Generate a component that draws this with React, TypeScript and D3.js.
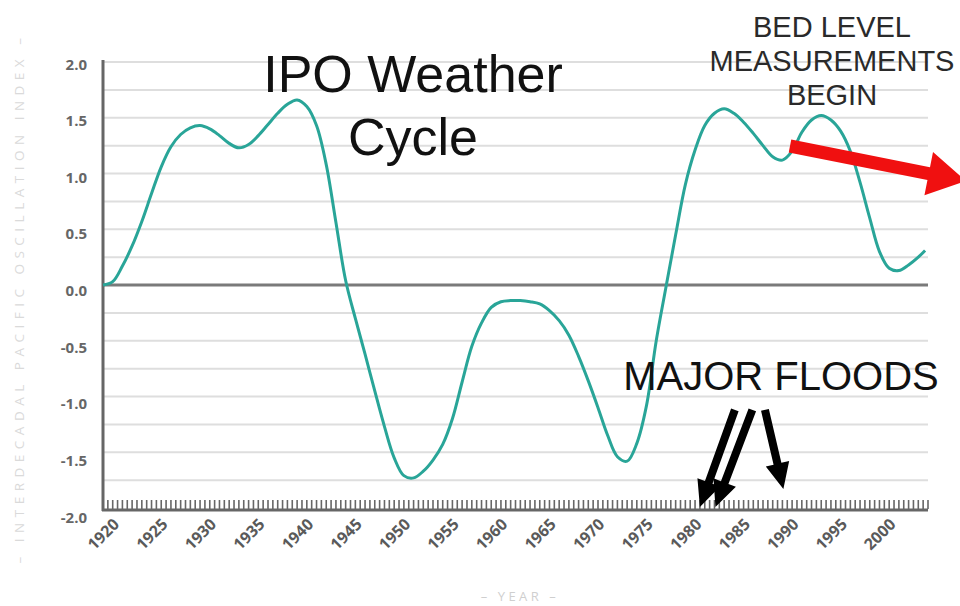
import React from "react";
import * as d3 from "d3";

// IPO index
const years = [
  1920, 1921, 1922, 1923, 1924, 1925, 1926, 1927, 1928, 1929,
  1930, 1931, 1932, 1933, 1934, 1935, 1936, 1937, 1938, 1939,
  1940, 1941, 1942, 1943, 1944, 1945, 1946, 1947, 1948, 1949,
  1950, 1951, 1952, 1953, 1954, 1955, 1956, 1957, 1958, 1959,
  1960, 1961, 1962, 1963, 1964, 1965, 1966, 1967, 1968, 1969,
  1970, 1971, 1972, 1973, 1974, 1975, 1976, 1977, 1978, 1979,
  1980, 1981, 1982, 1983, 1984, 1985, 1986, 1987, 1988, 1989,
  1990, 1991, 1992, 1993, 1994, 1995, 1996, 1997, 1998, 1999,
  2000, 2001, 2002, 2003, 2004, 2004.7,
];
const ipoValues = [
  0.0, 0.03, 0.17, 0.35, 0.57, 0.82, 1.06, 1.24, 1.35, 1.41,
  1.43, 1.4, 1.34, 1.27, 1.23, 1.26, 1.34, 1.44, 1.54, 1.62,
  1.66, 1.6, 1.43, 1.08, 0.56, 0.04, -0.3, -0.62, -0.95, -1.27,
  -1.55, -1.71, -1.73, -1.67, -1.57, -1.43, -1.2, -0.87, -0.55, -0.34,
  -0.2, -0.15, -0.14, -0.14, -0.15, -0.17, -0.23, -0.32, -0.45, -0.64,
  -0.86, -1.1, -1.35, -1.54, -1.58, -1.42, -1.08, -0.5, -0.02, 0.45,
  0.9, 1.21, 1.43, 1.54, 1.58, 1.54, 1.46, 1.36, 1.25, 1.15,
  1.12, 1.2, 1.37, 1.48, 1.52, 1.48, 1.38, 1.2, 0.92, 0.6,
  0.3, 0.15, 0.13, 0.18, 0.25, 0.31,
];

const yTickValues = [2.0, 1.5, 1.0, 0.5, 0.0, -0.5, -1.0, -1.5, -2.0];
const xTickYears = [1920, 1925, 1930, 1935, 1940, 1945, 1950, 1955, 1960, 1965, 1970, 1975, 1980, 1985, 1990, 1995, 2000];
const floodYears = [1981.5, 1983.1, 1990.1];
const floodTailYears = [1985.1, 1986.9, 1988.2];

const W = 960;
const H = 606;
const left = 103;
const right = 928;
const top = 62;
const bottom = 508;

function arrowPoints(x1: number, y1: number, x2: number, y2: number, w: number, hl: number, hw: number) {
  const dx = x2 - x1;
  const dy = y2 - y1;
  const len = Math.hypot(dx, dy);
  const ux = dx / len;
  const uy = dy / len;
  const px = -uy;
  const py = ux;
  const bx = x2 - ux * hl;
  const by = y2 - uy * hl;
  const pts = [
    [x1 + px * w / 2, y1 + py * w / 2],
    [bx + px * w / 2, by + py * w / 2],
    [bx + px * hw / 2, by + py * hw / 2],
    [x2, y2],
    [bx - px * hw / 2, by - py * hw / 2],
    [bx - px * w / 2, by - py * w / 2],
    [x1 - px * w / 2, y1 - py * w / 2],
  ];
  return pts.map((p) => p.join(",")).join(" ");
}

export default function App() {
  const x = d3.scaleLinear().domain([1920, 2005]).range([left, right]);
  const y = d3.scaleLinear().domain([-2, 2]).range([bottom, top]);

  const data = years.map((yr, i) => ({ yr, v: ipoValues[i] }));
  const line = d3
    .line<{ yr: number; v: number }>()
    .x((d) => x(d.yr))
    .y((d) => y(d.v))
    .curve(d3.curveCatmullRom.alpha(0.5));

  const gridVals = d3.range(-1.75, 2.01, 0.25);
  const minorTicks = d3.range(1920, 2005.01, 0.5);

  return (
    <svg width={W} height={H} style={{ position: "absolute", left: 0, top: 0, background: "#fff" }}>
      {/* grid */}
      {gridVals.map((g) => (
        <line key={g} x1={left} x2={right} y1={y(g)} y2={y(g)} stroke="#dedede" strokeWidth={2} />
      ))}
      {/* zero line */}
      <line x1={left} x2={right} y1={y(0)} y2={y(0)} stroke="#7a7a7a" strokeWidth={3} />

      {/* y axis */}
      <line x1={left} x2={left} y1={top - 2} y2={bottom + 3} stroke="#666" strokeWidth={3} />
      {yTickValues.map((v) => (
        <text
          key={v}
          x={87}
          y={y(v) + 7 - 1.75 * v}
          textAnchor="end"
          dominantBaseline="middle"
          fontFamily="'Open Sans', sans-serif"
          fontWeight={700}
          fontSize={15}
          fill="#666"
        >
          {v.toFixed(1)}
        </text>
      ))}

      {/* x axis */}
      {minorTicks.map((t) => (
        <line key={t} x1={x(t)} x2={x(t)} y1={bottom - 8} y2={bottom + 1} stroke="#666" strokeWidth={1.6} />
      ))}
      <line x1={left - 1} x2={right} y1={bottom + 2} y2={bottom + 2} stroke="#666" strokeWidth={3} />
      {xTickYears.map((t) => (
        <g key={t} transform={`translate(${x(t) + 13},${bottom + 13})`}>
          <g transform="rotate(-45)">
            <text
              x={0}
              y={6}
              textAnchor="end"
              fontFamily="'Open Sans', sans-serif"
              fontWeight={700}
              fontSize={16}
              fill="#5a5a5a"
            >
              {t}
            </text>
          </g>
        </g>
      ))}

      {/* axis titles */}
      <g transform="translate(20,298)">
        <text
          transform="rotate(-90)"
          textAnchor="middle"
          dominantBaseline="middle"
          fontFamily="'Open Sans', sans-serif"
          fontSize={13.5}
          letterSpacing={5.5}
          fill="#dadada"
        >
          – INTERDECADAL PACIFIC OSCILLATION INDEX –
        </text>
      </g>
      <text
        x={520}
        y={601}
        textAnchor="middle"
        fontFamily="'Open Sans', sans-serif"
        fontSize={13}
        letterSpacing={3.5}
        fill="#cfcfcf"
      >
        – YEAR –
      </text>

      {/* IPO line */}
      <path d={line(data) || ""} fill="none" stroke="#29a598" strokeWidth={3} strokeLinejoin="round" />

      {/* Title */}
      <text x={413} y={92} textAnchor="middle" fontFamily="'Liberation Sans', Arial, sans-serif" fontSize={52} fill="#111">
        IPO Weather
      </text>
      <text x={413} y={155} textAnchor="middle" fontFamily="'Liberation Sans', Arial, sans-serif" fontSize={52} fill="#111">
        Cycle
      </text>

      {/* Bed level annotation */}
      <g fontFamily="'Liberation Sans', Arial, sans-serif" fontSize={29} fill="#2a2a2a" textAnchor="middle">
        <text x={832} y={37}>BED LEVEL</text>
        <text x={832} y={71}>MEASUREMENTS</text>
        <text x={832} y={105}>BEGIN</text>
      </g>
      <polygon points={arrowPoints(790, 146, 966, 181, 13, 38, 44)} fill="#f01010" />

      {/* Major floods annotation */}
      <text x={781} y={390} textAnchor="middle" fontFamily="'Liberation Sans', Arial, sans-serif" fontSize={40} fill="#111">
        MAJOR FLOODS
      </text>
      {floodYears.map((fy, i) => (
        <polygon
          key={fy}
          points={arrowPoints(
            x(floodTailYears[i]),
            y(-1.12),
            x(fy),
            i === 2 ? y(-1.83) : y(-1.99),
            8,
            26,
            24
          )}
          fill="#000"
        />
      ))}
    </svg>
  );
}
